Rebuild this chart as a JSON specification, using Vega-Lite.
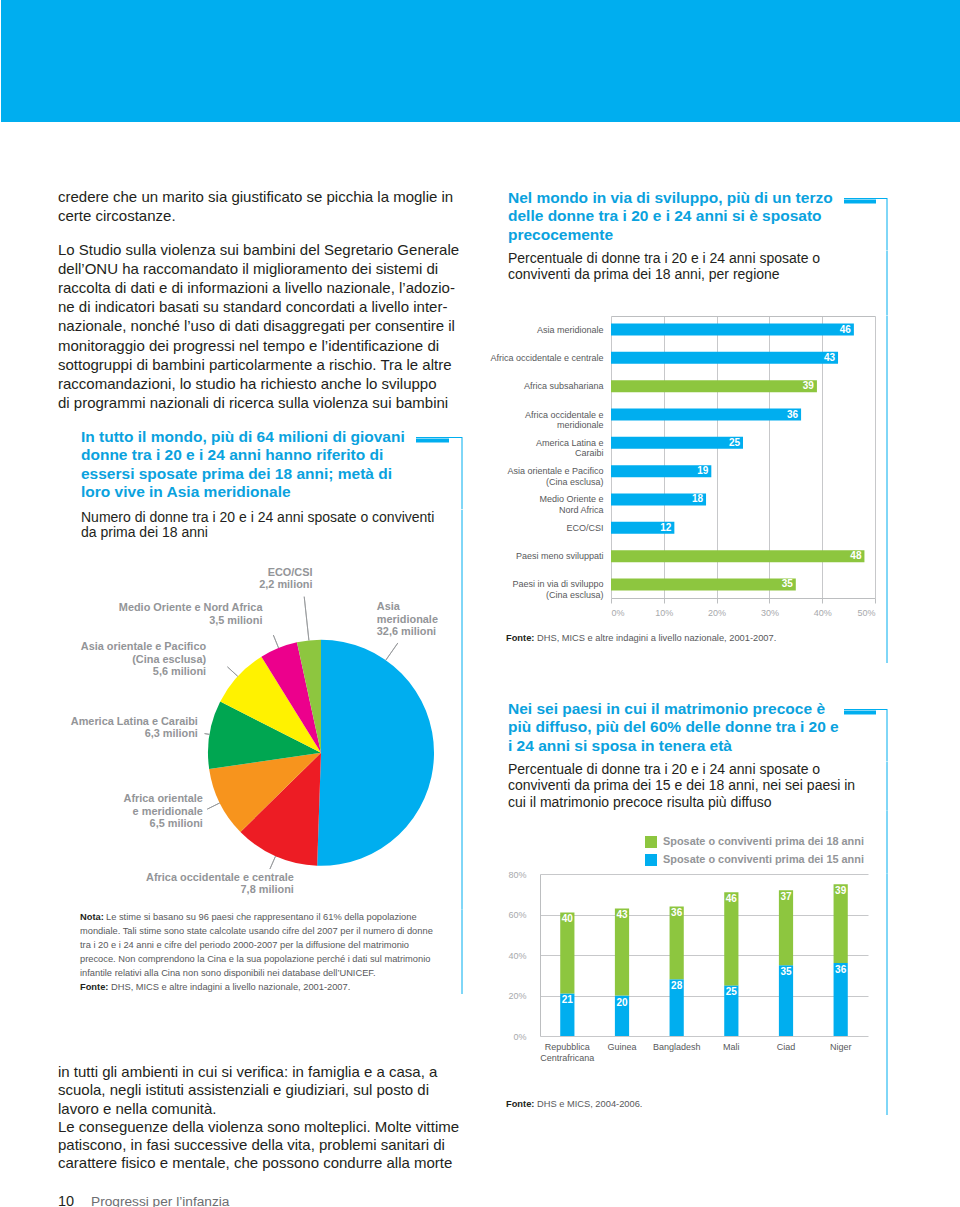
{
  "$schema": "https://vega.github.io/schema/vega-lite/v6.json",
  "padding": 0,
  "spacing": 0,
  "background": "white",
  "config": {"view": {"stroke": "transparent"}, "font": "Liberation Sans", "concat": {"spacing": 0}},
  "datasets": {"cornice": [{"elemento": "cornice"}]},
  "resolve": {"scale": {"color": "independent"}},
  "vconcat": [
    {
      "width": 960, "height": 122,
      "view": {"fill": "#00aeef"},
      "data": {"values": [{"fascia": "intestazione"}]},
      "mark": {"type": "rect", "color": "#00aeef"},
      "encoding": {}
    },
    {
      "spacing": -12,
      "resolve": {"scale": {"color": "independent"}},
      "hconcat": [
        {
          "spacing": 0,
          "bounds": "flush",
          "resolve": {"scale": {"color": "independent"}},
          "vconcat": [
            {"width": 461, "height": 64.4, "data": {"values": []}, "mark": "rect", "encoding": {}},
            {
              "width": 461, "height": 38.4,
              "data": {"values": [
                {"line": 1, "text": "credere che un marito sia giustificato se picchia la moglie in"},
                {"line": 2, "text": "certe circostanze."}
              ]},
              "mark": {"type": "text", "align": "left", "baseline": "middle", "dx": 57, "fontSize": 15, "color": "#231f20"},
              "encoding": {
                "x": {"value": 0},
                "y": {"field": "line", "type": "quantitative", "scale": {"domain": [0.5, 2.5], "reverse": true, "nice": false, "zero": false}, "axis": null},
                "text": {"field": "text"}
              }
            },
            {"width": 461, "height": 13.6, "data": {"values": []}, "mark": "rect", "encoding": {}},
            {
              "width": 461, "height": 172.8,
              "data": {"values": [
                {"line": 1, "text": "Lo Studio sulla violenza sui bambini del Segretario Generale"},
                {"line": 2, "text": "dell’ONU ha raccomandato il miglioramento dei sistemi di"},
                {"line": 3, "text": "raccolta di dati e di informazioni a livello nazionale, l’adozio-"},
                {"line": 4, "text": "ne di indicatori basati su standard concordati a livello inter-"},
                {"line": 5, "text": "nazionale, nonché l’uso di dati disaggregati per consentire il"},
                {"line": 6, "text": "monitoraggio dei progressi nel tempo e l’identificazione di"},
                {"line": 7, "text": "sottogruppi di bambini particolarmente a rischio. Tra le altre"},
                {"line": 8, "text": "raccomandazioni, lo studio ha richiesto anche lo sviluppo"},
                {"line": 9, "text": "di programmi nazionali di ricerca sulla violenza sui bambini"}
              ]},
              "mark": {"type": "text", "align": "left", "baseline": "middle", "dx": 57, "fontSize": 15, "color": "#231f20"},
              "encoding": {
                "x": {"value": 0},
                "y": {"field": "line", "type": "quantitative", "scale": {"domain": [0.5, 9.5], "reverse": true, "nice": false, "zero": false}, "axis": null},
                "text": {"field": "text"}
              }
            },
            {"width": 461, "height": 23.8, "data": {"values": []}, "mark": "rect", "encoding": {}},
            {
              "width": 461, "height": 72.25,
              "layer": [
                {
                  "data": {"values": [
                    {"line": 1, "text": "In tutto il mondo, più di 64 milioni di giovani"},
                    {"line": 2, "text": "donne tra i 20 e i 24 anni hanno riferito di"},
                    {"line": 3, "text": "essersi sposate prima dei 18 anni; metà di"},
                    {"line": 4, "text": "loro vive in Asia meridionale"}
                  ]},
                  "mark": {"type": "text", "align": "left", "baseline": "middle", "dx": 80, "fontSize": 15.5, "fontWeight": "bold", "color": "#0aa2de"},
                  "encoding": {
                    "x": {"value": 0},
                    "y": {"field": "line", "type": "quantitative", "scale": {"domain": [1, 4.948], "reverse": true, "nice": false, "zero": false}, "axis": null},
                    "text": {"field": "text"}
                  }
                },
                {"data": {"name": "cornice"}, "mark": {"type": "rule", "color": "#00aeef", "strokeWidth": 1}, "encoding": {"x": {"value": "width"}, "y": {"value": 0}, "y2": {"value": "height"}}},
                {"data": {"name": "cornice"}, "mark": {"type": "rule", "color": "#00aeef", "strokeWidth": 1, "xOffset": -46}, "encoding": {"x": {"value": "width"}, "x2": {"value": "width"}, "y": {"value": 0.5}}},
                {"data": {"name": "cornice"}, "mark": {"type": "rule", "color": "#00aeef", "strokeWidth": 4, "strokeCap": "butt", "xOffset": -46, "x2Offset": -13}, "encoding": {"x": {"value": "width"}, "x2": {"value": "width"}, "y": {"value": 3.5}}}
              ]
            },
            {
              "width": 461, "height": 31,
              "layer": [
                {
                  "data": {"values": [
                    {"line": 1, "text": "Numero di donne tra i 20 e i 24 anni sposate o conviventi"},
                    {"line": 2, "text": "da prima dei 18 anni"}
                  ]},
                  "mark": {"type": "text", "align": "left", "baseline": "middle", "dx": 80, "fontSize": 14, "color": "#231f20"},
                  "encoding": {
                    "x": {"value": 0},
                    "y": {"field": "line", "type": "quantitative", "scale": {"domain": [0.5, 2.5], "reverse": true, "nice": false, "zero": false}, "axis": null},
                    "text": {"field": "text"}
                  }
                },
                {"data": {"name": "cornice"}, "mark": {"type": "rule", "color": "#00aeef"}, "encoding": {"x": {"value": "width"}, "y": {"value": 0}, "y2": {"value": "height"}}}
              ]
            },
            {
              "width": 461, "height": 368.75,
              "data": {"values": [
                {"region": "Asia meridionale", "value": 32.6, "order": 1, "label": "Asia\nmeridionale\n32,6 milioni"},
                {"region": "Africa occidentale e centrale", "value": 7.8, "order": 2, "label": "Africa occidentale e centrale\n7,8 milioni"},
                {"region": "Africa orientale e meridionale", "value": 6.5, "order": 3, "label": "Africa orientale\ne meridionale\n6,5 milioni"},
                {"region": "America Latina e Caraibi", "value": 6.3, "order": 4, "label": "America Latina e Caraibi\n6,3 milioni"},
                {"region": "Asia orientale e Pacifico (Cina esclusa)", "value": 5.6, "order": 5, "label": "Asia orientale e Pacifico\n(Cina esclusa)\n5,6 milioni"},
                {"region": "Medio Oriente e Nord Africa", "value": 3.5, "order": 6, "label": "Medio Oriente e Nord Africa\n3,5 milioni"},
                {"region": "ECO/CSI", "value": 2.2, "order": 7, "label": "ECO/CSI\n2,2 milioni"}
              ]},
              "layer": [
                {
                  "mark": {"type": "arc", "outerRadius": 113},
                  "encoding": {
                    "theta": {"field": "value", "type": "quantitative", "stack": true},
                    "order": {"field": "order", "type": "quantitative"},
                    "color": {"field": "region", "type": "nominal", "legend": null,
                      "scale": {"domain": ["Asia meridionale", "Africa occidentale e centrale", "Africa orientale e meridionale", "America Latina e Caraibi", "Asia orientale e Pacifico (Cina esclusa)", "Medio Oriente e Nord Africa", "ECO/CSI"],
                                "range": ["#00aeef", "#ed1c24", "#f7941d", "#00a651", "#fff200", "#ec008c", "#8dc63f"]}},
                    "x": {"value": 320},
                    "y": {"value": 211.75}
                  }
                },
                {
                  "transform": [
                    {"stack": "value", "groupby": [], "sort": [{"field": "order", "order": "ascending"}], "as": ["v0", "v1"]},
                    {"filter": {"field": "region", "oneOf": ["Africa occidentale e centrale", "Africa orientale e meridionale", "Asia orientale e Pacifico (Cina esclusa)", "Medio Oriente e Nord Africa"]}}
                  ],
                  "mark": {"type": "arc", "innerRadius": 113, "outerRadius": 127, "padAngle": 3.1, "fill": "transparent", "stroke": "#939598", "strokeWidth": 0.8},
                  "encoding": {
                    "theta": {"field": "v0", "type": "quantitative", "stack": null},
                    "theta2": {"field": "v1"},
                    "x": {"value": 320}, "y": {"value": 211.75}
                  }
                },
                {
                  "transform": [
                    {"stack": "value", "groupby": [], "sort": [{"field": "order", "order": "ascending"}], "as": ["v0", "v1"]},
                    {"filter": {"field": "region", "equal": "America Latina e Caraibi"}}
                  ],
                  "mark": {"type": "arc", "innerRadius": 113, "outerRadius": 118, "padAngle": 3.1, "fill": "transparent", "stroke": "#939598", "strokeWidth": 0.8},
                  "encoding": {
                    "theta": {"field": "v0", "type": "quantitative", "stack": null},
                    "theta2": {"field": "v1"},
                    "x": {"value": 320}, "y": {"value": 211.75}
                  }
                },
                {
                  "transform": [
                    {"stack": "value", "groupby": [], "sort": [{"field": "order", "order": "ascending"}], "as": ["v0", "v1"]},
                    {"filter": {"field": "region", "equal": "ECO/CSI"}}
                  ],
                  "mark": {"type": "arc", "innerRadius": 113, "outerRadius": 157, "padAngle": 3.1, "fill": "transparent", "stroke": "#939598", "strokeWidth": 0.8},
                  "encoding": {
                    "theta": {"field": "v0", "type": "quantitative", "stack": null},
                    "theta2": {"field": "v1"},
                    "x": {"value": 320}, "y": {"value": 211.75}
                  }
                },
                {
                  "transform": [
                    {"stack": "value", "groupby": [], "sort": [{"field": "order", "order": "ascending"}], "as": ["v0", "v1"]},
                    {"filter": {"field": "region", "equal": "Asia meridionale"}}
                  ],
                  "mark": {"type": "arc", "innerRadius": 113, "outerRadius": 134, "padAngle": 3.1, "theta2Offset": -1.954, "fill": "transparent", "stroke": "#939598", "strokeWidth": 0.8},
                  "encoding": {
                    "theta": {"field": "v0", "type": "quantitative", "stack": null},
                    "theta2": {"field": "v1"},
                    "x": {"value": 320}, "y": {"value": 211.75}
                  }
                },
                {
                  "mark": {"type": "text", "radius": 156, "align": "right", "baseline": "middle", "lineBreak": "\n", "fontSize": 10.9, "fontWeight": "bold", "lineHeight": 12.5, "color": "#939598"},
                  "encoding": {
                    "theta": {"field": "value", "type": "quantitative", "stack": true},
                    "order": {"field": "order", "type": "quantitative"},
                    "x": {"value": 320}, "y": {"value": 211.75},
                    "text": {"condition": {"test": "datum.region === 'Medio Oriente e Nord Africa' || datum.region === 'Asia orientale e Pacifico (Cina esclusa)'", "field": "label"}, "value": ""}
                  }
                },
                {
                  "mark": {"type": "text", "radius": 127, "thetaOffset": 0.085, "align": "right", "baseline": "middle", "lineBreak": "\n", "fontSize": 10.9, "fontWeight": "bold", "lineHeight": 12.5, "color": "#939598"},
                  "encoding": {
                    "theta": {"field": "value", "type": "quantitative", "stack": true},
                    "order": {"field": "order", "type": "quantitative"},
                    "x": {"value": 320}, "y": {"value": 211.75},
                    "text": {"condition": {"test": "datum.region === 'America Latina e Caraibi' || datum.region === 'Africa orientale e meridionale'", "field": "label"}, "value": ""}
                  }
                },
                {
                  "mark": {"type": "text", "radius": 180, "thetaOffset": 0.06, "align": "right", "baseline": "middle", "lineBreak": "\n", "fontSize": 10.9, "fontWeight": "bold", "lineHeight": 12.5, "color": "#939598"},
                  "encoding": {
                    "theta": {"field": "value", "type": "quantitative", "stack": true},
                    "order": {"field": "order", "type": "quantitative"},
                    "x": {"value": 320}, "y": {"value": 211.75},
                    "text": {"condition": {"test": "datum.region === 'ECO/CSI'", "field": "label"}, "value": ""}
                  }
                },
                {
                  "mark": {"type": "text", "radius": 128, "thetaOffset": -0.2, "align": "right", "baseline": "middle", "lineBreak": "\n", "fontSize": 10.9, "fontWeight": "bold", "lineHeight": 12.5, "color": "#939598"},
                  "encoding": {
                    "theta": {"field": "value", "type": "quantitative", "stack": true},
                    "order": {"field": "order", "type": "quantitative"},
                    "x": {"value": 320}, "y": {"value": 211.75},
                    "text": {"condition": {"test": "datum.region === 'Africa occidentale e centrale'", "field": "label"}, "value": ""}
                  }
                },
                {
                  "mark": {"type": "text", "radius": 156, "thetaOffset": -1.222, "align": "left", "baseline": "middle", "lineBreak": "\n", "fontSize": 10.9, "fontWeight": "bold", "lineHeight": 12.5, "color": "#939598"},
                  "encoding": {
                    "theta": {"field": "value", "type": "quantitative", "stack": true},
                    "order": {"field": "order", "type": "quantitative"},
                    "x": {"value": 320}, "y": {"value": 211.75},
                    "text": {"condition": {"test": "datum.region === 'Asia meridionale'", "field": "label"}, "value": ""}
                  }
                },
                {"data": {"name": "cornice"}, "mark": {"type": "rule", "color": "#00aeef"}, "encoding": {"x": {"value": "width"}, "y": {"value": 0}, "y2": {"value": "height"}}}
              ]
            },
            {
              "width": 461, "height": 84,
              "data": {"values": [
                {"line": 1, "lead": "Nota:", "text": "Le stime si basano su 96 paesi che rappresentano il 61% della popolazione"},
                {"line": 2, "lead": "", "text": "mondiale. Tali stime sono state calcolate usando cifre del 2007 per il numero di donne"},
                {"line": 3, "lead": "", "text": "tra i 20 e i 24 anni e cifre del periodo 2000-2007 per la diffusione del matrimonio"},
                {"line": 4, "lead": "", "text": "precoce. Non comprendono la Cina e la sua popolazione perché i dati sul matrimonio"},
                {"line": 5, "lead": "", "text": "infantile relativi alla Cina non sono disponibili nei database dell’UNICEF."},
                {"line": 6, "lead": "Fonte:", "text": "DHS, MICS e altre indagini a livello nazionale, 2001-2007."}
              ]},
              "layer": [
                {
                  "mark": {"type": "text", "align": "left", "baseline": "middle", "dx": 79, "fontSize": 9.3, "fontWeight": "bold", "color": "#231f20"},
                  "encoding": {"x": {"value": 0}, "y": {"field": "line", "type": "quantitative", "scale": {"domain": [0.5, 6.5], "reverse": true, "nice": false, "zero": false}, "axis": null}, "text": {"field": "lead"}}
                },
                {
                  "transform": [{"filter": "datum.lead === 'Nota:'"}],
                  "mark": {"type": "text", "align": "left", "baseline": "middle", "dx": 105, "fontSize": 9.3, "color": "#58595b"},
                  "encoding": {"x": {"value": 0}, "y": {"field": "line", "type": "quantitative", "scale": {"domain": [0.5, 6.5], "reverse": true, "nice": false, "zero": false}, "axis": null}, "text": {"field": "text"}}
                },
                {
                  "transform": [{"filter": "datum.lead === 'Fonte:'"}],
                  "mark": {"type": "text", "align": "left", "baseline": "middle", "dx": 110, "fontSize": 9.3, "color": "#58595b"},
                  "encoding": {"x": {"value": 0}, "y": {"field": "line", "type": "quantitative", "scale": {"domain": [0.5, 6.5], "reverse": true, "nice": false, "zero": false}, "axis": null}, "text": {"field": "text"}}
                },
                {
                  "transform": [{"filter": "datum.lead === ''"}],
                  "mark": {"type": "text", "align": "left", "baseline": "middle", "dx": 79, "fontSize": 9.3, "color": "#58595b"},
                  "encoding": {"x": {"value": 0}, "y": {"field": "line", "type": "quantitative", "scale": {"domain": [0.5, 6.5], "reverse": true, "nice": false, "zero": false}, "axis": null}, "text": {"field": "text"}}
                },
                {"data": {"name": "cornice"}, "mark": {"type": "rule", "color": "#00aeef"}, "encoding": {"x": {"value": "width"}, "y": {"value": 0}, "y2": {"value": "height"}}}
              ]
            },
            {"width": 461, "height": 68.4, "data": {"values": []}, "mark": "rect", "encoding": {}},
            {
              "width": 461, "height": 109.2,
              "data": {"values": [
                {"line": 1, "text": "in tutti gli ambienti in cui si verifica: in famiglia e a casa, a"},
                {"line": 2, "text": "scuola, negli istituti assistenziali e giudiziari, sul posto di"},
                {"line": 3, "text": "lavoro e nella comunità."},
                {"line": 4, "text": "Le conseguenze della violenza sono molteplici. Molte vittime"},
                {"line": 5, "text": "patiscono, in fasi successive della vita, problemi sanitari di"},
                {"line": 6, "text": "carattere fisico e mentale, che possono condurre alla morte"}
              ]},
              "mark": {"type": "text", "align": "left", "baseline": "middle", "dx": 57, "fontSize": 15, "color": "#231f20"},
              "encoding": {
                "x": {"value": 0},
                "y": {"field": "line", "type": "quantitative", "scale": {"domain": [0.5, 6.5], "reverse": true, "nice": false, "zero": false}, "axis": null},
                "text": {"field": "text"}
              }
            },
            {"width": 461, "height": 19.4, "data": {"values": []}, "mark": "rect", "encoding": {}},
            {
              "width": 461, "height": 18,
              "data": {"values": [{"line": 1, "page": "10", "running": "Progressi per l’infanzia"}]},
              "layer": [
                {
                  "mark": {"type": "text", "align": "left", "baseline": "middle", "dx": 57, "fontSize": 14.5, "color": "#231f20"},
                  "encoding": {"x": {"value": 0}, "y": {"field": "line", "type": "quantitative", "scale": {"domain": [0.5, 1.5], "reverse": true, "nice": false, "zero": false}, "axis": null}, "text": {"field": "page"}}
                },
                {
                  "mark": {"type": "text", "align": "left", "baseline": "middle", "dx": 90, "fontSize": 13.7, "color": "#6d6e71"},
                  "encoding": {"x": {"value": 0}, "y": {"field": "line", "type": "quantitative", "scale": {"domain": [0.5, 1.5], "reverse": true, "nice": false, "zero": false}, "axis": null}, "text": {"field": "running"}}
                }
              ]
            }
          ]
        },
        {
          "spacing": 0,
          "bounds": "flush",
          "resolve": {"scale": {"color": "independent"}},
          "vconcat": [
            {"width": 347, "height": 76, "data": {"values": []}, "mark": "rect", "encoding": {}},
            {
              "width": 347, "height": 52.5,
              "layer": [
                {
                  "data": {"values": [
                    {"line": 1, "text": "Nel mondo in via di sviluppo, più di un terzo"},
                    {"line": 2, "text": "delle donne tra i 20 e i 24 anni si è sposato"},
                    {"line": 3, "text": "precocemente"}
                  ]},
                  "mark": {"type": "text", "align": "left", "baseline": "middle", "dx": -32, "fontSize": 15.5, "fontWeight": "bold", "color": "#0aa2de"},
                  "encoding": {
                    "x": {"value": 0},
                    "y": {"field": "line", "type": "quantitative", "scale": {"domain": [1, 3.838], "reverse": true, "nice": false, "zero": false}, "axis": null},
                    "text": {"field": "text"}
                  }
                },
                {"data": {"name": "cornice"}, "mark": {"type": "rule", "color": "#00aeef", "strokeWidth": 1}, "encoding": {"x": {"value": "width"}, "y": {"value": 0}, "y2": {"value": "height"}}},
                {"data": {"name": "cornice"}, "mark": {"type": "rule", "color": "#00aeef", "strokeWidth": 1, "xOffset": -43}, "encoding": {"x": {"value": "width"}, "x2": {"value": "width"}, "y": {"value": 0.5}}},
                {"data": {"name": "cornice"}, "mark": {"type": "rule", "color": "#00aeef", "strokeWidth": 4, "strokeCap": "butt", "xOffset": -43, "x2Offset": -11}, "encoding": {"x": {"value": "width"}, "x2": {"value": "width"}, "y": {"value": 3.5}}}
              ]
            },
            {
              "width": 347, "height": 32,
              "layer": [
                {
                  "data": {"values": [
                    {"line": 1, "text": "Percentuale di donne tra i 20 e i 24 anni sposate o"},
                    {"line": 2, "text": "conviventi da prima dei 18 anni, per regione"}
                  ]},
                  "mark": {"type": "text", "align": "left", "baseline": "middle", "dx": -32, "fontSize": 14, "color": "#231f20"},
                  "encoding": {
                    "x": {"value": 0},
                    "y": {"field": "line", "type": "quantitative", "scale": {"domain": [0.5, 2.5], "reverse": true, "nice": false, "zero": false}, "axis": null},
                    "text": {"field": "text"}
                  }
                },
                {"data": {"name": "cornice"}, "mark": {"type": "rule", "color": "#00aeef"}, "encoding": {"x": {"value": "width"}, "y": {"value": 0}, "y2": {"value": "height"}}}
              ]
            },
            {"width": 347, "height": 32.5, "data": {"name": "cornice"}, "mark": {"type": "rule", "color": "#00aeef"}, "encoding": {"x": {"value": "width"}, "y": {"value": 0}, "y2": {"value": "height"}}},
            {
              "width": 347, "height": 282,
              "data": {"values": [
                {"region": "Asia meridionale", "value": 46, "group": "regione"},
                {"region": "Africa occidentale e centrale", "value": 43, "group": "regione"},
                {"region": "Africa subsahariana", "value": 39, "group": "aggregato"},
                {"region": "Africa occidentale e\nmeridionale", "value": 36, "group": "regione"},
                {"region": "America Latina e\nCaraibi", "value": 25, "group": "regione"},
                {"region": "Asia orientale e Pacifico\n(Cina esclusa)", "value": 19, "group": "regione"},
                {"region": "Medio Oriente e\nNord Africa", "value": 18, "group": "regione"},
                {"region": "ECO/CSI", "value": 12, "group": "regione"},
                {"region": "Paesi meno sviluppati", "value": 48, "group": "aggregato"},
                {"region": "Paesi in via di sviluppo\n(Cina esclusa)", "value": 35, "group": "aggregato"}
              ]},
              "layer": [
                {
                  "mark": {"type": "bar"},
                  "encoding": {
                    "y": {"field": "region", "type": "nominal", "sort": null,
                      "scale": {"paddingInner": 0.5765, "paddingOuter": 0.265},
                      "axis": {"title": null, "offset": -71, "domain": false, "ticks": false, "tickSize": 0, "labelPadding": 8, "labelExpr": "split(datum.label, '\\n')", "labelFontSize": 9, "labelColor": "#58595b", "labelLineHeight": 10.5, "labelLimit": 250}},
                    "x": {"field": "value", "type": "quantitative",
                      "scale": {"domain": [0, 50], "range": [71, 335], "nice": false},
                      "axis": {"title": null, "values": [0, 10, 20, 30, 40, 50], "labelExpr": "datum.value + '%'", "grid": true, "gridColor": "#c7c8ca", "domainColor": "#bcbec0", "tickColor": "#bcbec0", "tickSize": 5, "labelPadding": 5, "labelFontSize": 9, "labelColor": "#a7a9ac", "labelOverlap": false}},
                    "color": {"field": "group", "type": "nominal", "scale": {"domain": ["regione", "aggregato"], "range": ["#00aeef", "#8dc63f"]}, "legend": null}
                  }
                },
                {
                  "mark": {"type": "text", "align": "right", "baseline": "middle", "dx": -3, "color": "white", "fontWeight": "bold", "fontSize": 10},
                  "encoding": {
                    "y": {"field": "region", "type": "nominal", "sort": null},
                    "x": {"field": "value", "type": "quantitative", "axis": {"orient": "top", "title": null, "labels": false, "ticks": false, "grid": false, "domain": true, "domainColor": "#bcbec0"}},
                    "text": {"field": "value", "type": "quantitative"}
                  }
                },
                {"data": {"name": "cornice"}, "mark": {"type": "rule", "color": "#00aeef"}, "encoding": {"x": {"value": "width"}, "y": {"value": 0}, "y2": {"value": "height"}}}
              ],
              "resolve": {"axis": {"x": "independent"}}
            },
            {"width": 347, "height": 29, "data": {"name": "cornice"}, "mark": {"type": "rule", "color": "#00aeef"}, "encoding": {"x": {"value": "width"}, "y": {"value": 0}, "y2": {"value": "height"}}},
            {
              "width": 347, "height": 22,
              "data": {"values": [{"line": 1, "lead": "Fonte:", "text": "DHS, MICS e altre indagini a livello nazionale, 2001-2007."}]},
              "layer": [
                {
                  "mark": {"type": "text", "align": "left", "baseline": "middle", "dx": -34, "fontSize": 9.3, "fontWeight": "bold", "color": "#231f20"},
                  "encoding": {"x": {"value": 0}, "y": {"field": "line", "type": "quantitative", "scale": {"domain": [0.5, 1.5], "reverse": true, "nice": false, "zero": false}, "axis": null}, "text": {"field": "lead"}}
                },
                {
                  "mark": {"type": "text", "align": "left", "baseline": "middle", "dx": -3, "fontSize": 9.3, "color": "#58595b"},
                  "encoding": {"x": {"value": 0}, "y": {"field": "line", "type": "quantitative", "scale": {"domain": [0.5, 1.5], "reverse": true, "nice": false, "zero": false}, "axis": null}, "text": {"field": "text"}}
                },
                {"data": {"name": "cornice"}, "mark": {"type": "rule", "color": "#00aeef"}, "encoding": {"x": {"value": "width"}, "y": {"value": 0}, "y2": {"value": "height"}}}
              ]
            },
            {"width": 347, "height": 14, "data": {"name": "cornice"}, "mark": {"type": "rule", "color": "#00aeef"}, "encoding": {"x": {"value": "width"}, "y": {"value": 0}, "y2": {"value": "height"}}},
            {"width": 347, "height": 46, "data": {"values": []}, "mark": "rect", "encoding": {}},
            {
              "width": 347, "height": 52.5,
              "layer": [
                {
                  "data": {"values": [
                    {"line": 1, "text": "Nei sei paesi in cui il matrimonio precoce è"},
                    {"line": 2, "text": "più diffuso, più del 60% delle donne tra i 20 e"},
                    {"line": 3, "text": "i 24 anni si sposa in tenera età"}
                  ]},
                  "mark": {"type": "text", "align": "left", "baseline": "middle", "dx": -32, "fontSize": 15.5, "fontWeight": "bold", "color": "#0aa2de"},
                  "encoding": {
                    "x": {"value": 0},
                    "y": {"field": "line", "type": "quantitative", "scale": {"domain": [1, 3.838], "reverse": true, "nice": false, "zero": false}, "axis": null},
                    "text": {"field": "text"}
                  }
                },
                {"data": {"name": "cornice"}, "mark": {"type": "rule", "color": "#00aeef", "strokeWidth": 1}, "encoding": {"x": {"value": "width"}, "y": {"value": 0}, "y2": {"value": "height"}}},
                {"data": {"name": "cornice"}, "mark": {"type": "rule", "color": "#00aeef", "strokeWidth": 1, "xOffset": -43}, "encoding": {"x": {"value": "width"}, "x2": {"value": "width"}, "y": {"value": 0.5}}},
                {"data": {"name": "cornice"}, "mark": {"type": "rule", "color": "#00aeef", "strokeWidth": 4, "strokeCap": "butt", "xOffset": -43, "x2Offset": -11}, "encoding": {"x": {"value": "width"}, "x2": {"value": "width"}, "y": {"value": 3.5}}}
              ]
            },
            {
              "width": 347, "height": 48.75,
              "layer": [
                {
                  "data": {"values": [
                    {"line": 1, "text": "Percentuale di donne tra i 20 e i 24 anni sposate o"},
                    {"line": 2, "text": "conviventi da prima dei 15 e dei 18 anni, nei sei paesi in"},
                    {"line": 3, "text": "cui il matrimonio precoce risulta più diffuso"}
                  ]},
                  "mark": {"type": "text", "align": "left", "baseline": "middle", "dx": -32, "fontSize": 14, "color": "#231f20"},
                  "encoding": {
                    "x": {"value": 0},
                    "y": {"field": "line", "type": "quantitative", "scale": {"domain": [0.5, 3.5], "reverse": true, "nice": false, "zero": false}, "axis": null},
                    "text": {"field": "text"}
                  }
                },
                {"data": {"name": "cornice"}, "mark": {"type": "rule", "color": "#00aeef"}, "encoding": {"x": {"value": "width"}, "y": {"value": 0}, "y2": {"value": "height"}}}
              ]
            },
            {"width": 347, "height": 62.75, "data": {"name": "cornice"}, "mark": {"type": "rule", "color": "#00aeef"}, "encoding": {"x": {"value": "width"}, "y": {"value": 0}, "y2": {"value": "height"}}},
            {
              "width": 328, "height": 162,
              "data": {"values": [
                {"country": "Repubblica\nCentrafricana", "series": "Sposate o conviventi prima dei 15 anni", "value": 21, "order": 1},
                {"country": "Repubblica\nCentrafricana", "series": "Sposate o conviventi prima dei 18 anni", "value": 40, "order": 2},
                {"country": "Guinea", "series": "Sposate o conviventi prima dei 15 anni", "value": 20, "order": 1},
                {"country": "Guinea", "series": "Sposate o conviventi prima dei 18 anni", "value": 43, "order": 2},
                {"country": "Bangladesh", "series": "Sposate o conviventi prima dei 15 anni", "value": 28, "order": 1},
                {"country": "Bangladesh", "series": "Sposate o conviventi prima dei 18 anni", "value": 36, "order": 2},
                {"country": "Mali", "series": "Sposate o conviventi prima dei 15 anni", "value": 25, "order": 1},
                {"country": "Mali", "series": "Sposate o conviventi prima dei 18 anni", "value": 46, "order": 2},
                {"country": "Ciad", "series": "Sposate o conviventi prima dei 15 anni", "value": 35, "order": 1},
                {"country": "Ciad", "series": "Sposate o conviventi prima dei 18 anni", "value": 37, "order": 2},
                {"country": "Niger", "series": "Sposate o conviventi prima dei 15 anni", "value": 36, "order": 1},
                {"country": "Niger", "series": "Sposate o conviventi prima dei 18 anni", "value": 39, "order": 2}
              ]},
              "layer": [
                {
                  "mark": {"type": "bar"},
                  "encoding": {
                    "x": {"field": "country", "type": "nominal", "sort": null,
                      "scale": {"paddingInner": 0.74, "paddingOuter": 0.37},
                      "axis": {"title": null, "labelAngle": 0, "domain": false, "ticks": false, "tickSize": 0, "labelPadding": 6, "labelExpr": "split(datum.label, '\\n')", "labelFontSize": 9, "labelColor": "#58595b", "labelLineHeight": 11}},
                    "y": {"field": "value", "type": "quantitative", "stack": "zero",
                      "scale": {"domain": [0, 80], "nice": false},
                      "axis": {"title": null, "values": [0, 10, 20, 30, 40, 50, 60, 70, 80], "labelExpr": "datum.value + '%'", "labelOverlap": false, "grid": true, "gridColor": "#c7c8ca", "domain": true, "domainColor": "#bcbec0", "ticks": false, "tickSize": 0, "labelPadding": 14, "labelFontSize": 9, "labelColor": "#a7a9ac"}},
                    "color": {"field": "series", "type": "nominal",
                      "scale": {"domain": ["Sposate o conviventi prima dei 18 anni", "Sposate o conviventi prima dei 15 anni"], "range": ["#8dc63f", "#00aeef"]},
                      "legend": {"orient": "none", "legendX": 105, "legendY": -38, "title": null, "symbolType": "square", "symbolSize": 144, "symbolStrokeWidth": 0, "symbolOpacity": 1, "labelFontSize": 10.9, "labelFontWeight": "bold", "labelColor": "#939598", "labelOffset": 6, "rowPadding": 6, "padding": 0, "labelLimit": 300, "direction": "vertical"}},
                    "order": {"field": "order", "type": "quantitative"}
                  }
                },
                {
                  "mark": {"type": "text", "baseline": "top", "dy": 2, "color": "white", "fontWeight": "bold", "fontSize": 10},
                  "encoding": {
                    "x": {"field": "country", "type": "nominal", "sort": null},
                    "y": {"field": "value", "type": "quantitative", "stack": "zero"},
                    "order": {"field": "order", "type": "quantitative"},
                    "text": {"field": "value", "type": "quantitative"}
                  }
                },
                {"data": {"name": "cornice"}, "mark": {"type": "rule", "color": "#00aeef", "xOffset": 19}, "encoding": {"x": {"value": "width"}, "y": {"value": 0}, "y2": {"value": "height"}}}
              ]
            },
            {"width": 347, "height": 57, "data": {"name": "cornice"}, "mark": {"type": "rule", "color": "#00aeef"}, "encoding": {"x": {"value": "width"}, "y": {"value": 0}, "y2": {"value": "height"}}},
            {
              "width": 347, "height": 22,
              "data": {"values": [{"line": 1, "lead": "Fonte:", "text": "DHS e MICS, 2004-2006."}]},
              "layer": [
                {
                  "mark": {"type": "text", "align": "left", "baseline": "middle", "dx": -34, "fontSize": 9.3, "fontWeight": "bold", "color": "#231f20"},
                  "encoding": {"x": {"value": 0}, "y": {"field": "line", "type": "quantitative", "scale": {"domain": [0.5, 1.5], "reverse": true, "nice": false, "zero": false}, "axis": null}, "text": {"field": "lead"}}
                },
                {
                  "mark": {"type": "text", "align": "left", "baseline": "middle", "dx": -3, "fontSize": 9.3, "color": "#58595b"},
                  "encoding": {"x": {"value": 0}, "y": {"field": "line", "type": "quantitative", "scale": {"domain": [0.5, 1.5], "reverse": true, "nice": false, "zero": false}, "axis": null}, "text": {"field": "text"}}
                },
                {"data": {"name": "cornice"}, "mark": {"type": "rule", "color": "#00aeef"}, "encoding": {"x": {"value": "width"}, "y": {"value": 0}, "y2": {"value": "height"}}}
              ]
            }
          ]
        }
      ]
    }
  ]
}
